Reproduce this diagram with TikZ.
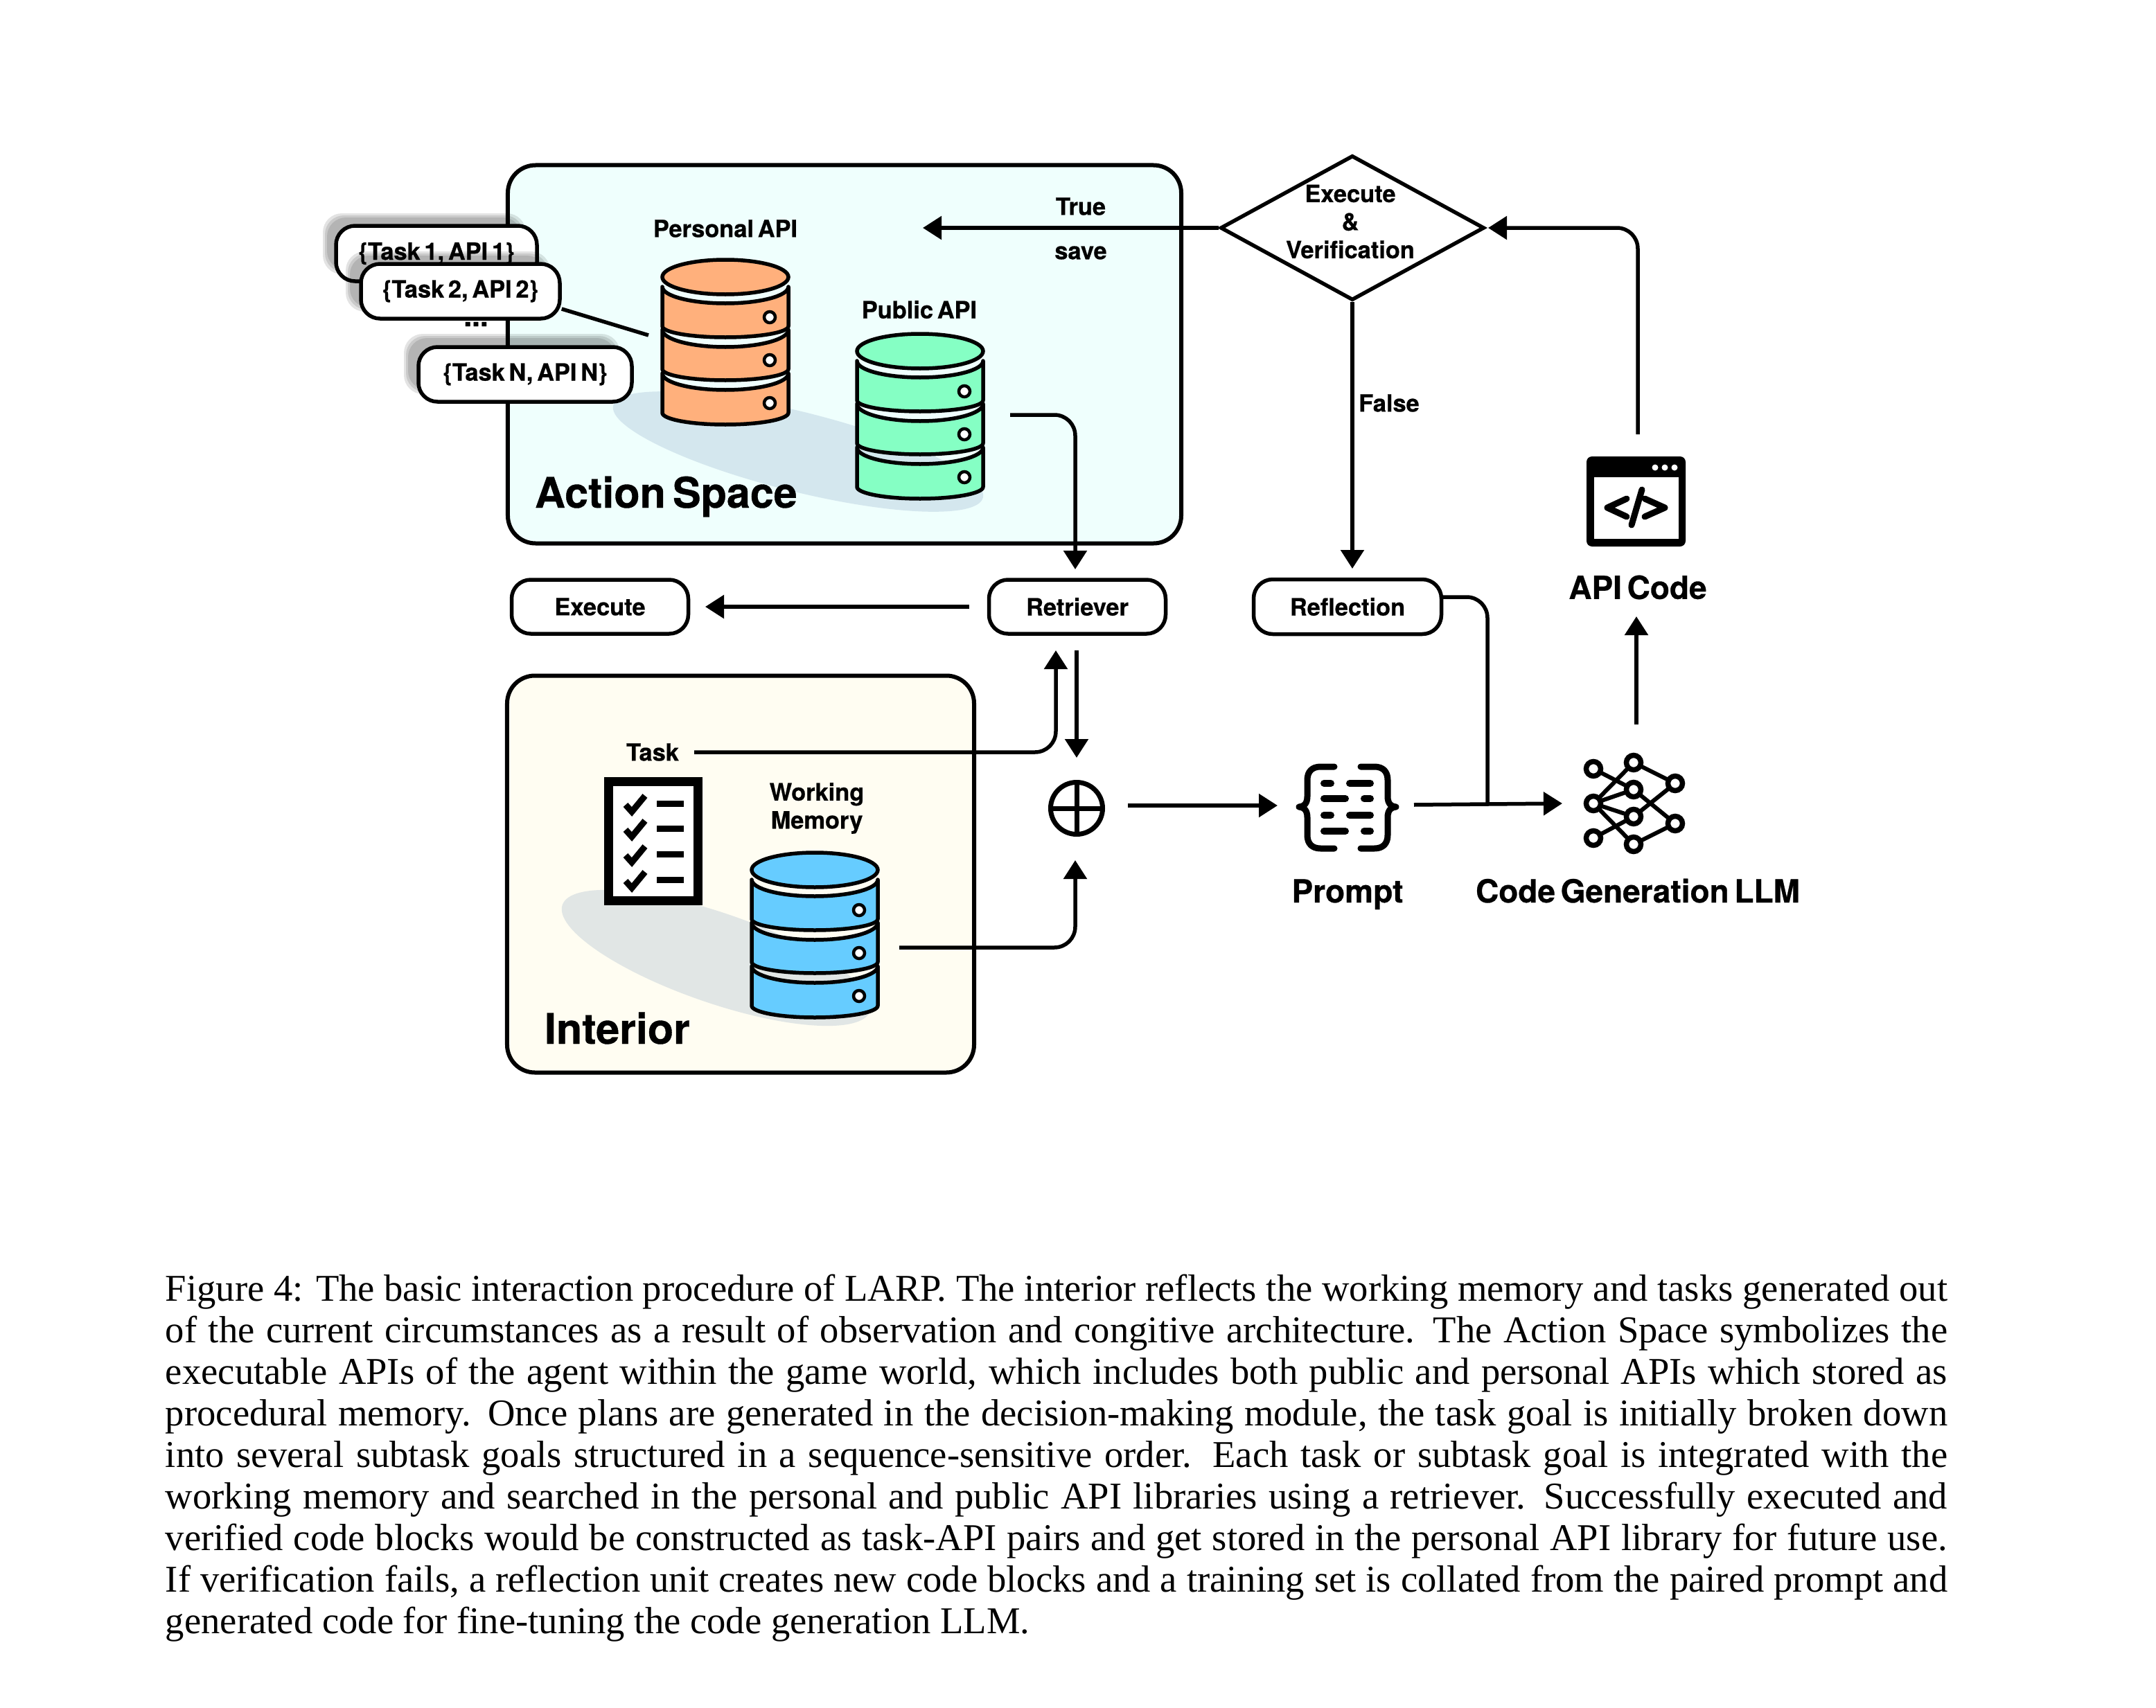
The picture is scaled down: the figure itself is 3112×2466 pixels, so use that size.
\documentclass[tikz,border=0pt]{standalone}
\usepackage{fontspec}
\setmainfont{Liberation Serif}
\newfontfamily\hv{TeX Gyre Heros}[WordSpace=0.6,BoldFeatures={FakeBold=0.6}]
\usetikzlibrary{arrows.meta,shapes.geometric}
\definecolor{actionbg}{HTML}{EFFFFD}
\definecolor{interiorbg}{HTML}{FFFDF2}
\definecolor{shadeA}{HTML}{D4E7EE}
\definecolor{shadeB}{HTML}{E1E6E5}
\definecolor{oranged}{HTML}{FFB07C}
\definecolor{greend}{HTML}{85FFC4}
\definecolor{blued}{HTML}{66CCFF}
\tikzset{
  region/.style={draw=black,line width=1.2pt,rounded corners=8pt,inner sep=0pt},
  pill/.style={draw=black,fill=white,line width=1.1pt,rounded corners=5.5pt,inner sep=0pt,font=\hv\bfseries\fontsize{6.88}{8}\selectfont},
  small/.style={inner sep=0pt,font=\hv\bfseries\fontsize{6.88}{8}\selectfont},
  mid/.style={inner sep=0pt,font=\hv\bfseries\fontsize{9.2}{10}\selectfont},
  big/.style={inner sep=0pt,font=\hv\bfseries\fontsize{12.2}{13}\selectfont},
  wire/.style={draw=black,line width=1.1pt},
  arrowed/.style={wire,-{Triangle[length=5.4pt,width=6.6pt]}},
  icon/.style={draw=black,line width=1.8pt,line cap=round,line join=round},
  softshadow/.style={black,opacity=0.11},
}
\newcommand{\softbox}[4]{%
  \foreach \d in {-2,1,4}{
    \fill[softshadow,rounded corners=5.5pt] (#1-\d,#2-\d) rectangle (#3+\d,#4+\d);
  }}
\newcommand{\dbseg}[5]{% ytop ytopmid yside ybot fill
  \draw[draw=black,line width=1.1pt,fill=#5,line join=round]
   (-91,#1) -- (-91,#3) .. controls (-91,#3+.55*#4-.55*#3) and (-50,#4) .. (0,#4)
   .. controls (50,#4) and (91,#3+.55*#4-.55*#3) .. (91,#3) -- (91,#1)
   .. controls (91,#1+.55*#2-.55*#1) and (50,#2) .. (0,#2)
   .. controls (-50,#2) and (-91,#1+.55*#2-.55*#1) .. cycle;
}
\newcommand{\dbicon}[3]{%
  \begin{scope}[shift={(#1,#2)}]
   \draw[draw=black,line width=1.1pt,fill=#3] (0,0) ellipse [x radius=18.2pt,y radius=5pt];
   \dbseg{14}{38}{71}{87}{#3}
   \dbseg{76}{101}{133}{149}{#3}
   \dbseg{139}{163}{196}{213}{#3}
   \foreach \hy in {58,120,182}{
     \draw[draw=black,line width=.9pt,fill=white] (64,\hy) circle [radius=1.6pt];
   }
  \end{scope}}
\begin{document}
\begin{tikzpicture}[x=0.2pt,y=-0.2pt]
\useasboundingbox (0,0) rectangle (3112,2466);
% regions
\node[region,fill=actionbg,minimum width=194.4pt,minimum height=109.2pt] (action) at (1219,511.5) {};
\node[region,fill=interiorbg,minimum width=134.8pt,minimum height=114.6pt] (interior) at (1069,1262) {};
\fill[shadeA,rotate around={-14:(1152,652)}] (1152,652) ellipse [x radius=55pt,y radius=11.5pt];
\fill[shadeB,rotate around={-19:(1034,1383)}] (1034,1383) ellipse [x radius=47pt,y radius=13pt];
% databases
\dbicon{1047}{400}{oranged}
\dbicon{1328}{507}{greend}
\dbicon{1176}{1256}{blued}
\node[small] (personal) at (1047,330) {Personal API};
\node[small] (public) at (1327,447) {Public API};
\node[big,anchor=base west] (actiont) at (771,733) {Action Space};
\node[big,anchor=base west] (interiort) at (785,1507) {Interior};
% task pairs
\softbox{470}{312}{755}{392}
\node[pill,minimum width=58pt,minimum height=16pt] (t1) at (630,366) {\raisebox{-1pt}{\{Task 1, API 1\}}};
\softbox{503}{367}{790}{446}
\node[pill,minimum width=57.4pt,minimum height=15.8pt] (t2) at (664.5,420.5) {\{Task 2, API 2\}};
\node[small,font=\hv\bfseries\fontsize{8.5}{9}\selectfont] (dots) at (687,468) {...};
\softbox{587}{486}{891}{565}
\node[pill,minimum width=61.6pt,minimum height=15.8pt] (tn) at (758,540.5) {\{Task N, API N\}};
\coordinate (pairend) at (936,484);
\draw[wire] (t2.east |- 0,446) -- (pairend);
% flow boxes
\node[pill,minimum width=51pt,minimum height=15.6pt] (retriever) at (1555,876) {Retriever};
\node[pill,minimum width=51pt,minimum height=15.6pt] (execute) at (866,876) {Execute};
\node[pill,minimum width=54.2pt,minimum height=15.8pt] (reflection) at (1945,876) {Reflection};
\node[diamond,draw=black,line width=1.1pt,fill=white,minimum width=76.2pt,minimum height=41.8pt,aspect=1.82,inner sep=0pt] (verify) at (1952,329) {};
\node[small,align=center,font=\hv\bfseries\fontsize{6.88}{8.1}\selectfont] (verifyt) at (1949,320) {Execute\\\&\\Verification};
\node[small] (true) at (1560,298) {True};
\node[small] (save) at (1560,365) {save};
\node[small] (false) at (2005,582) {False};
\node[small] (task) at (942,1086) {Task};
\node[small,align=center,font=\hv\bfseries\fontsize{6.88}{8.1}\selectfont] (wm) at (1179,1167) {Working\\Memory};
\node[circle,draw=black,line width=1.4pt,minimum size=15pt,inner sep=0pt] (oplus) at (1554,1167) {};
\draw[line width=1.4pt] (oplus.north) -- (oplus.south) (oplus.west) -- (oplus.east);
% labels of icons
\node[mid] (apicode) at (2364,848) {API Code};
\node[mid,anchor=base] (prompt) at (1945,1303) {Prompt};
\node[mid,anchor=base] (llm) at (2364,1303) {Code Generation LLM};
% code icon
\node[draw=none,fill=black,rounded corners=1.6pt,minimum width=28.6pt,minimum height=26pt,inner sep=0pt] (codeicon) at (2361.5,724) {};
\fill[white] (2301,689) rectangle (2423,778);
\fill[white] (2389,675) circle [radius=.9pt] (2403,675) circle [radius=.9pt] (2417,675) circle [radius=.9pt];
\draw[icon] (2348,720) -- (2320,733) -- (2348,746);
\draw[icon] (2374,720) -- (2403,733) -- (2374,746);
\draw[icon] (2370,707) -- (2355,758);
% checklist
\node[draw=black,line width=2.6pt,fill=white,minimum width=25.8pt,minimum height=34.4pt,inner sep=0pt] (check) at (943,1214.5) {};
\foreach \cy in {1160,1196,1233,1270}{
  \draw[line width=1.8pt,line join=miter] (903,\cy+2) -- (912,\cy+12) -- (931,\cy-11);
  \fill (948,\cy-4.5) rectangle (987,\cy+4.5);
}
% prompt icon
\draw[line width=1.8pt,line cap=round,line join=round]
  (1926,1107) -- (1906,1107) .. controls (1894,1107) and (1887,1114) .. (1887,1126) -- (1887,1150) .. controls (1887,1160) and (1882,1165) .. (1875,1165) .. controls (1882,1165) and (1887,1170) .. (1887,1180) -- (1887,1206) .. controls (1887,1218) and (1894,1225) .. (1906,1225) -- (1926,1225);
\draw[line width=1.8pt,line cap=round,line join=round]
  (1964,1107) -- (1984,1107) .. controls (1996,1107) and (2003,1114) .. (2003,1126) -- (2003,1150) .. controls (2003,1160) and (2008,1165) .. (2015,1165) .. controls (2008,1165) and (2003,1170) .. (2003,1180) -- (2003,1206) .. controls (2003,1218) and (1996,1225) .. (1984,1225) -- (1964,1225);
\draw[line width=2pt,line cap=round]
  (1911,1131) -- (1921,1131) (1948,1131) -- (1978,1131)
  (1911,1153) -- (1942,1153) (1969,1153) -- (1978,1153)
  (1911,1177) -- (1921,1177) (1948,1177) -- (1978,1177)
  (1911,1200) -- (1942,1200) (1969,1200) -- (1978,1200);
% network icon
\foreach \n/\x/\y in {a/2300/1110,b/2358/1101,c/2418/1131,d/2358/1140,e/2300/1160,f/2358/1179,g/2418/1189,h/2300/1210,i/2358/1219}{
  \coordinate (\n) at (\x,\y);
}
\draw[line width=1.2pt] (a)--(d) (e)--(b) (e)--(d) (e)--(f) (e)--(i) (h)--(f) (b)--(c) (d)--(g) (f)--(c) (i)--(g);
\foreach \n in {a,b,c,d,e,f,g,h,i}{
  \draw[line width=1.5pt,fill=white] (\n) circle [radius=2.1pt];
}
% connectors
\coordinate (pubstart) at (1458,599);
\coordinate (retrin) at (1552,822);
\draw[arrowed,rounded corners=6pt] (pubstart) -- (1552,599) -- (retrin);
\coordinate (exstart) at (1399,876);
\coordinate (extip) at (1018,876);
\draw[arrowed] (exstart) -- (extip);
\coordinate (tasks) at (1002,1086);
\coordinate (taskt) at (1524,939);
\draw[arrowed,rounded corners=6pt] (tasks) -- (1524,1086) -- (taskt);
\coordinate (rets) at (1554,939);
\coordinate (rett) at (1554,1094);
\draw[arrowed] (rets) -- (rett);
\coordinate (mems) at (1298,1368);
\coordinate (memt) at (1552,1242);
\draw[arrowed,rounded corners=6pt] (mems) -- (1552,1368) -- (memt);
\coordinate (plss) at (1628,1163);
\coordinate (plst) at (1844,1163);
\draw[arrowed] (plss) -- (plst);
\coordinate (prs) at (2041,1162);
\coordinate (prt) at (2255,1160);
\draw[arrowed] (prs) -- (prt);
\coordinate (refs) at (2081,862);
\coordinate (refe) at (2147,1161);
\draw[wire,rounded corners=6pt] (refs) -- (2147,862) -- (refe);
\coordinate (llms) at (2362,1046);
\coordinate (llmt) at (2362,890);
\draw[arrowed] (llms) -- (llmt);
\coordinate (apis) at (2364,627);
\coordinate (apit) at (2148,329);
\draw[arrowed,rounded corners=6pt] (apis) -- (2364,329) -- (apit);
\coordinate (truet) at (1332,330);
\draw[arrowed] (verify.west) -- (truet |- verify.west);
\coordinate (falset) at (1952,821);
\draw[arrowed] (verify.south) -- (falset);
% caption
\node[anchor=north west,inner sep=0pt,text width=514.4pt,align=justify,font=\fontsize{10.93}{12}\selectfont] (caption) at (238,1839) {Figure 4: The basic interaction procedure of LARP. The interior reflects the working memory and tasks generated out\linebreak
of the current circumstances as a result of observation and congitive architecture. The Action Space symbolizes the\linebreak
executable APIs of the agent within the game world, which includes both public and personal APIs which stored as\linebreak
procedural memory. Once plans are generated in the decision-making module, the task goal is initially broken down\linebreak
into several subtask goals structured in a sequence-sensitive order. Each task or subtask goal is integrated with the\linebreak
working memory and searched in the personal and public API libraries using a retriever. Successfully executed and\linebreak
verified code blocks would be constructed as task-API pairs and get stored in the personal API library for future use.\linebreak
If verification fails, a reflection unit creates new code blocks and a training set is collated from the paired prompt and\linebreak
generated code for fine-tuning the code generation LLM.};
\end{tikzpicture}
\end{document}
